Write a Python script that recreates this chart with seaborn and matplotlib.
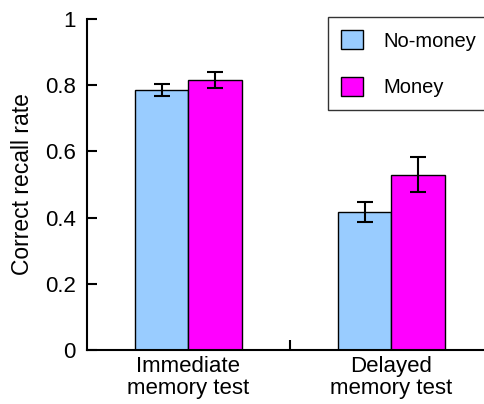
import pandas as pd
import matplotlib.pyplot as plt
import seaborn as sns
from matplotlib.ticker import FormatStrFormatter

sns.set_style("white")
plt.rcParams['font.family'] = ['Liberation Sans', 'DejaVu Sans']
plt.rcParams['text.color'] = 'black'
plt.rcParams['axes.labelcolor'] = 'black'
plt.rcParams['xtick.color'] = 'black'
plt.rcParams['ytick.color'] = 'black'

# Data
tests = ['Immediate\nmemory test', 'Delayed\nmemory test']
conditions = ['No-money', 'Money']
recall_nomoney = [0.785, 0.417]
recall_money = [0.816, 0.529]
err_nomoney = [0.018, 0.030]
err_money = [0.024, 0.053]

palette = {'No-money': '#99CCFF', 'Money': '#FF00FF'}

df = pd.DataFrame({
    'test': tests * 2,
    'condition': ['No-money'] * 2 + ['Money'] * 2,
    'rate': recall_nomoney + recall_money,
    'err': err_nomoney + err_money,
})

fig = plt.figure(figsize=(4.85, 4.04), dpi=100)
ax = fig.add_axes([87 / 485, 54 / 404, 406 / 485, 331 / 404])

sns.barplot(data=df, x='test', y='rate', hue='condition', order=tests,
            hue_order=conditions, palette=palette, width=0.53, errorbar=None,
            edgecolor='black', linewidth=1.0, saturation=1, ax=ax)

# Error bars at the centre of each bar
for container, cond in zip(ax.containers, conditions):
    sub = df[df['condition'] == cond].set_index('test').loc[tests]
    xs = [b.get_x() + b.get_width() / 2 for b in container]
    ax.errorbar(xs, sub['rate'], yerr=sub['err'], fmt='none', ecolor='black',
                elinewidth=1.5, capsize=6, capthick=1.5, zorder=5)

ax.set_xlim(-0.5, 1.5)
ax.set_ylim(0, 1)
ax.set_yticks([0, 0.2, 0.4, 0.6, 0.8, 1.0])
ax.yaxis.set_major_formatter(FormatStrFormatter('%g'))
ax.set_ylabel('Correct recall rate', fontsize=16.5, labelpad=8)
ax.set_xlabel('')

ax.tick_params(axis='y', direction='in', length=7, width=1.5, labelsize=16,
               pad=8, left=True)
ax.tick_params(axis='x', which='major', length=0, labelsize=16, pad=4)
for lbl in ax.get_xticklabels():
    lbl.set_linespacing(1.1)
ax.set_xticks([0.5], minor=True)
ax.tick_params(axis='x', which='minor', direction='in', length=7, width=1.5,
               bottom=True)

sns.despine(ax=ax, top=True, right=True)
for side in ['left', 'bottom']:
    ax.spines[side].set_linewidth(1.5)
    ax.spines[side].set_color('black')

leg = ax.legend(loc='upper left', bbox_to_anchor=(328 / 485, 1 - 17 / 404),
                bbox_transform=fig.transFigure, fontsize=14.5, frameon=True,
                fancybox=False, edgecolor='black', handlelength=1.1,
                handleheight=1.1, handletextpad=1.0, labelspacing=1.3,
                borderpad=0.65, borderaxespad=0)
leg.get_frame().set_linewidth(1.0)

plt.savefig('out.png', dpi=100)
